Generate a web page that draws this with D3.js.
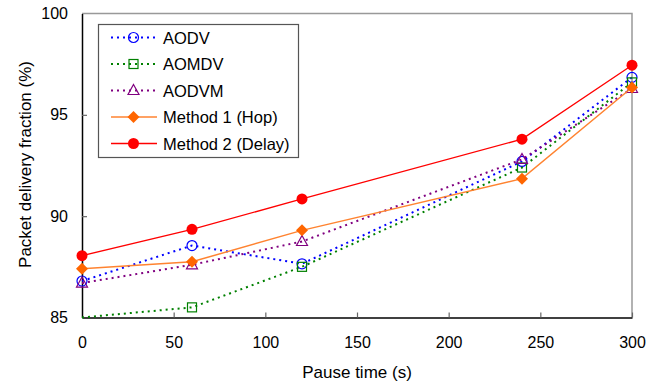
<!DOCTYPE html>
<html>
<head>
<meta charset="utf-8">
<script src="https://cdn.jsdelivr.net/npm/d3@7"></script>
<style>
  body { margin: 0; background: #fff; }
  text { font-family: "Liberation Sans", Arial, sans-serif; fill: #000; }
</style>
</head>
<body>
<div id="chart"></div>
<script>
// pause times (s)
const pauseTimes = [0, 60, 120, 240, 300];
// packet delivery fraction (%) per protocol
const aodv = [86.8, 88.55, 87.65, 92.7, 96.85];
const aomdv = [85.0, 85.5, 87.5, 92.4, 96.6];
const aodvm = [86.7, 87.6, 88.75, 92.8, 96.3];
const method1 = [87.4, 87.75, 89.3, 91.85, 96.35];
const method2 = [88.05, 89.35, 90.85, 93.8, 97.45];

const xTicks = [0, 50, 100, 150, 200, 250, 300];
const yTicks = [85, 90, 95, 100];

const seriesNames = ["AODV", "AOMDV", "AODVM", "Method 1 (Hop)", "Method 2 (Delay)"];
const seriesValues = [aodv, aomdv, aodvm, method1, method2];

const width = 669;
const height = 385;
const margin = { top: 13.5, right: 37, bottom: 67.5, left: 82 };

const svg = d3.select("#chart").append("svg")
  .attr("width", width)
  .attr("height", height);

const xScale = d3.scaleLinear()
  .domain([0, 300])
  .range([margin.left, width - margin.right]);

const yScale = d3.scaleLinear()
  .domain([85, 100])
  .range([height - margin.bottom, margin.top]);

// style per series
const styles = [
  { color: "#0000ff", line: "#0000ff", dash: "2,4", width: 2, marker: "circle" },
  { color: "#008000", line: "#008000", dash: "2,4", width: 2, marker: "square" },
  { color: "#800080", line: "#800080", dash: "2,4", width: 2, marker: "triangle" },
  { color: "#ff6600", line: "#ff8330", dash: null, width: 1.5, marker: "diamond" },
  { color: "#ff0000", line: "#ff0000", dash: null, width: 1.3, marker: "dot" }
];

const series = seriesNames.map((name, i) => ({
  name: name,
  style: styles[i],
  points: pauseTimes.map((t, j) => ({ x: t, y: seriesValues[i][j] }))
}));

// plot border (top and right grey)
svg.append("path")
  .attr("d", `M${xScale(0)},${yScale(100)}H${xScale(300)}V${yScale(85)}`)
  .attr("fill", "none")
  .attr("stroke", "#999")
  .attr("stroke-width", 1.5);

// axes
const xAxis = svg.append("g")
  .attr("transform", `translate(0,${yScale(85)})`)
  .call(d3.axisBottom(xScale).tickValues(xTicks).tickSizeInner(-5).tickSizeOuter(0).tickPadding(19));

const yAxis = svg.append("g")
  .attr("transform", `translate(${xScale(0)},0)`)
  .call(d3.axisLeft(yScale).tickValues(yTicks).tickSizeInner(-5).tickSizeOuter(0).tickPadding(14));

[xAxis, yAxis].forEach((g) => {
  g.select(".domain").attr("stroke", "#000").attr("stroke-width", 1.5);
  g.selectAll(".tick line").attr("stroke", "#666").attr("stroke-width", 1.2);
  g.selectAll(".tick text")
    .style("font-family", "'Liberation Sans', Arial, sans-serif")
    .style("font-size", "16px")
    .attr("fill", "#000");
});
// first/last x tick lines sit on the axes
xAxis.selectAll(".tick line").filter((d) => d === 0).remove();
yAxis.selectAll(".tick line").filter((d) => d === 85 || d === 100).remove();

// axis titles
svg.append("text")
  .attr("text-anchor", "middle")
  .attr("x", (xScale(0) + xScale(300)) / 2)
  .attr("y", 378)
  .style("font-size", "17px")
  .text("Pause time (s)");

svg.append("text")
  .attr("text-anchor", "middle")
  .attr("transform", "rotate(-90)")
  .attr("x", -(yScale(85) + yScale(100)) / 2 + 1)
  .attr("y", 31)
  .style("font-size", "17px")
  .text("Packet delivery fraction (%)");

const line = d3.line()
  .x((d) => xScale(d.x))
  .y((d) => yScale(d.y));

function drawMarker(g, type, color, cx, cy) {
  if (type === "circle") {
    g.append("circle").attr("cx", cx).attr("cy", cy).attr("r", 5)
      .attr("fill", "none").attr("stroke", color).attr("stroke-width", 1.2);
  } else if (type === "square") {
    g.append("rect").attr("x", cx - 4.5).attr("y", cy - 4.5).attr("width", 9).attr("height", 9)
      .attr("fill", "none").attr("stroke", color).attr("stroke-width", 1.2);
  } else if (type === "triangle") {
    g.append("path").attr("d", `M${cx},${cy - 6}L${cx + 5.5},${cy + 4}L${cx - 5.5},${cy + 4}Z`)
      .attr("fill", "none").attr("stroke", color).attr("stroke-width", 1.2);
  } else if (type === "diamond") {
    g.append("path").attr("d", `M${cx},${cy - 6}L${cx + 6},${cy}L${cx},${cy + 6}L${cx - 6},${cy}Z`)
      .attr("fill", color);
  } else {
    g.append("circle").attr("cx", cx).attr("cy", cy).attr("r", 5.5).attr("fill", color);
  }
}

// series lines and markers
series.forEach((s) => {
  const g = svg.append("g");
  g.append("path")
    .datum(s.points)
    .attr("d", line)
    .attr("fill", "none")
    .attr("stroke", s.style.line)
    .attr("stroke-width", s.style.width)
    .attr("stroke-dasharray", s.style.dash);
  s.points
    .filter((d) => d.y > 85)
    .forEach((d) => drawMarker(g, s.style.marker, s.style.color, xScale(d.x), yScale(d.y)));
});

// legend
const legend = svg.append("g");
legend.append("rect")
  .attr("x", 98.5)
  .attr("y", 24.5)
  .attr("width", 200)
  .attr("height", 133)
  .attr("fill", "#fff")
  .attr("stroke", "#555")
  .attr("stroke-width", 1.2);

series.forEach((s, i) => {
  const y = 37.5 + i * 26.5;
  legend.append("line")
    .attr("x1", 111).attr("x2", 157)
    .attr("y1", y).attr("y2", y)
    .attr("stroke", s.style.line)
    .attr("stroke-width", s.style.width)
    .attr("stroke-dasharray", s.style.dash);
  drawMarker(legend, s.style.marker, s.style.color, 133.5, y);
  legend.append("text")
    .attr("x", 163)
    .attr("y", y + 6)
    .style("font-size", "16.5px")
    .text(s.name);
});
</script>
</body>
</html>
